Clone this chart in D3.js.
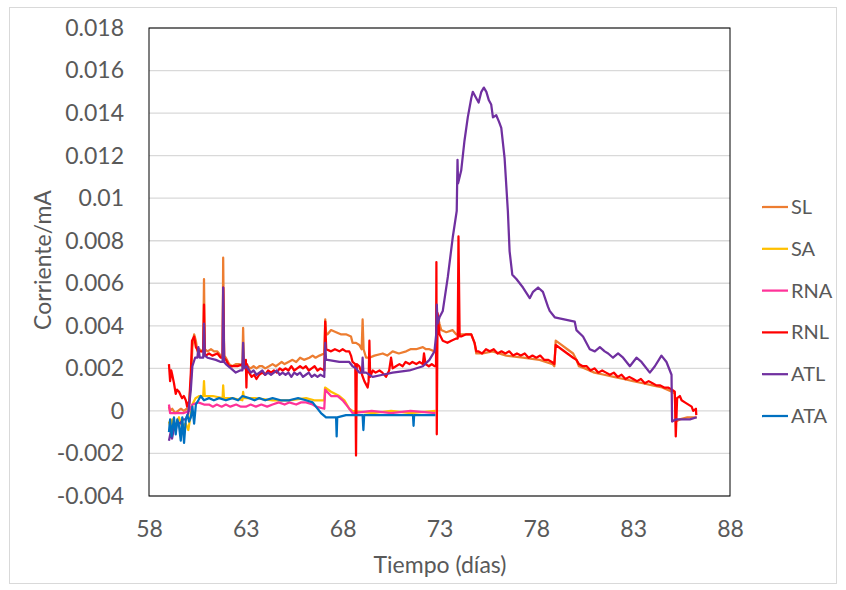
<!DOCTYPE html>
<html>
<head>
<meta charset="utf-8">
<script src="https://cdn.jsdelivr.net/npm/d3@7"></script>
<style>
  body { margin: 0; background: #fff; }
  text { font-family: Lato, "Open Sans", sans-serif; fill: #595959; }
</style>
</head>
<body>
<div id="chart"></div>
<script>
// Series values, [day, current mA]
const seriesNames = ["SL", "SA", "RNA", "RNL", "ATL", "ATA"];
const seriesColors = ["#ED7D31", "#FFC000", "#FF3399", "#FF0000", "#7030A0", "#0070C0"];

const SL = [
  [59.03, 0.0002], [59.09, 0.0], [59.2, 0.0001], [59.35, -0.0001], [59.5, 0.0], [59.65, 0.0001], [59.8, 0.0],
  [59.95, 0.0001], [60.05, 0.0], [60.16, 0.0014], [60.24, 0.003], [60.33, 0.0036], [60.42, 0.0033], [60.5, 0.0028],
  [60.6, 0.0029], [60.73, 0.0028], [60.8, 0.0029], [60.84, 0.0062], [60.88, 0.0029], [61.02, 0.0028], [61.2, 0.0029],
  [61.36, 0.0028], [61.53, 0.0028], [61.71, 0.0026], [61.8, 0.0026], [61.83, 0.0072], [61.88, 0.0026], [61.97, 0.0025],
  [62.14, 0.0022], [62.3, 0.0021], [62.48, 0.0022], [62.66, 0.0022], [62.82, 0.0021], [62.86, 0.0039], [62.91, 0.0021],
  [63.08, 0.0021], [63.25, 0.002], [63.4, 0.0021], [63.55, 0.002], [63.7, 0.0021], [63.85, 0.0021], [64.0, 0.002],
  [64.2, 0.0021], [64.38, 0.0022], [64.55, 0.0021], [64.7, 0.0022], [64.85, 0.0023], [65.0, 0.0022], [65.2, 0.0023],
  [65.41, 0.0024], [65.6, 0.0023], [65.8, 0.0025], [66.0, 0.0024], [66.28, 0.0025], [66.45, 0.0026], [66.6, 0.0025],
  [66.8, 0.0026], [67.05, 0.0027], [67.1, 0.0043],
  [67.15, 0.0036], [67.22, 0.0036], [67.4, 0.0038], [67.66, 0.0037], [67.9, 0.0036], [68.17, 0.0036], [68.43, 0.0035],
  [68.51, 0.0032], [68.69, 0.0032], [68.86, 0.0031], [68.98, 0.0029], [69.03, 0.0043], [69.08, 0.0029], [69.21, 0.0025],
  [69.38, 0.0025], [69.64, 0.0026], [70.07, 0.0027], [70.3, 0.0026], [70.58, 0.0028], [70.9, 0.0027], [71.28, 0.0028],
  [71.5, 0.0029], [71.79, 0.0029], [72.14, 0.003], [72.3, 0.0029],
  [72.48, 0.0029], [72.74, 0.0028], [72.83, 0.0029], [72.9, 0.0045], [73.0, 0.0041], [73.09, 0.0038], [73.35, 0.0037],
  [73.67, 0.0038], [73.86, 0.0036], [74.12, 0.0036], [74.38, 0.0036], [74.64, 0.0036], [74.81, 0.0032], [74.9, 0.0027],
  [75.22, 0.0027], [75.74, 0.0028], [76.45, 0.0026], [77.31, 0.0025], [78.17, 0.0024], [78.84, 0.0022], [78.93, 0.0021],
  [79.0, 0.0033], [79.3, 0.0031], [79.6, 0.0029], [79.9, 0.0027], [80.07, 0.0024], [80.2, 0.0021], [80.5, 0.002],
  [81.0, 0.0018], [81.5, 0.0017], [82.0, 0.0016], [82.5, 0.0015], [83.0, 0.0014], [83.5, 0.0013], [84.0, 0.0012],
  [84.5, 0.0011], [85.0, 0.0009], [85.15, 0.0008], [85.2, -0.0005], [85.4, -0.0004], [85.8, -0.0003], [86.28, -0.0003]
];

const SA = [
  [59.03, -0.0005], [59.12, -0.0008], [59.2, -0.0004], [59.3, -0.0009], [59.45, -0.0005], [59.55, -0.0003],
  [59.7, -0.0007], [59.9, -0.0006], [60.03, -0.0009], [60.15, -0.0002], [60.24, 0.0003], [60.4, 0.0006], [60.6, 0.0007],
  [60.8, 0.0007], [60.84, 0.0014], [60.88, 0.0007], [61.3, 0.0007], [61.8, 0.0006], [61.83, 0.0012], [61.87, 0.0006],
  [62.3, 0.0006], [62.82, 0.0005], [62.86, 0.0009], [62.9, 0.0006], [63.5, 0.0006], [64.38, 0.0005], [65.24, 0.0005],
  [66.11, 0.0006], [66.53, 0.0005], [67.05, 0.0005], [67.09, 0.0011], [67.4, 0.0009], [67.83, 0.0007], [68.09, 0.0005],
  [68.34, 0.0001], [68.51, 0.0], [69.55, -0.0001], [70.5, 0.0], [71.5, -0.0001], [72.79, 0.0]
];

const RNA = [
  [59.03, 0.0003], [59.09, -0.0001], [59.3, -0.0001], [59.55, -0.0001], [59.8, -0.0001], [60.07, 0.0], [60.24, 0.0003],
  [60.55, 0.0004], [60.84, 0.0003], [61.1, 0.0003], [61.3, 0.0002], [61.5, 0.0003], [61.75, 0.0002], [61.97, 0.0003],
  [62.2, 0.0002], [62.5, 0.0003], [62.75, 0.0002], [63.0, 0.0002], [63.25, 0.0003], [63.52, 0.0002], [63.8, 0.0003],
  [64.1, 0.0002], [64.38, 0.0003], [64.7, 0.0004], [65.0, 0.0003], [65.24, 0.0004], [65.6, 0.0003], [65.85, 0.0004],
  [66.11, 0.0004], [66.45, 0.0003], [66.62, 0.0002], [67.05, 0.0001],
  [67.1, 0.001], [67.4, 0.0007], [67.74, 0.0007], [68.0, 0.0005], [68.26, 0.0002], [68.51, -0.0001], [69.5, 0.0],
  [70.5, -0.0001], [71.5, 0.0], [72.79, -0.0001]
];

const RNL = [
  [59.03, 0.0022], [59.09, 0.0014], [59.15, 0.0019], [59.2, 0.0017], [59.29, 0.0013], [59.38, 0.0008], [59.45, 0.001],
  [59.55, 0.0009], [59.65, 0.0007], [59.71, 0.0006], [59.8, 0.0007], [59.9, 0.0005], [59.97, 0.0002], [60.03, 0.0004],
  [60.07, 0.0003], [60.16, 0.0018], [60.22, 0.0033], [60.33, 0.0035], [60.42, 0.003], [60.55, 0.0028], [60.73, 0.0028],
  [60.8, 0.0028], [60.84, 0.005], [60.88, 0.0027], [60.93, 0.0026], [61.1, 0.0027], [61.27, 0.0026], [61.53, 0.0027],
  [61.71, 0.0025], [61.8, 0.0025], [61.83, 0.0058], [61.88, 0.0025], [61.97, 0.0024], [62.14, 0.0021], [62.31, 0.0021],
  [62.57, 0.0021], [62.83, 0.0022], [62.9, 0.0022], [63.0, 0.0024], [63.03, 0.0011], [63.06, 0.0022], [63.17, 0.0018],
  [63.3, 0.0016], [63.43, 0.0017], [63.55, 0.0015], [63.69, 0.0017], [63.85, 0.0018], [64.0, 0.0017], [64.15, 0.0019],
  [64.3, 0.0018], [64.45, 0.0019], [64.6, 0.0018], [64.75, 0.002], [64.9, 0.0019], [65.05, 0.002], [65.2, 0.0019],
  [65.35, 0.0021], [65.5, 0.0019], [65.65, 0.002], [65.8, 0.0021], [65.95, 0.002], [66.1, 0.0021], [66.25, 0.0019],
  [66.4, 0.002], [66.55, 0.0021], [66.7, 0.0019], [66.85, 0.002], [67.05, 0.0019],
  [67.1, 0.0042], [67.15, 0.0029], [67.4, 0.0028], [67.6, 0.0029], [67.83, 0.0028], [68.0, 0.0029],
  [68.17, 0.0028], [68.34, 0.0028], [68.43, 0.0026], [68.51, 0.0023], [68.65, 0.0022], [68.69, -0.0021], [68.73, 0.0022],
  [68.86, 0.0021], [69.0, 0.0017], [69.12, 0.0014], [69.29, 0.0011], [69.34, 0.0014], [69.38, 0.0033], [69.42, 0.0016],
  [69.55, 0.0019], [69.7, 0.0018], [69.9, 0.0019], [70.05, 0.0018], [70.24, 0.0016], [70.4, 0.0019], [70.5, 0.0025],
  [70.58, 0.002], [70.75, 0.0021], [70.93, 0.0022], [71.1, 0.0021], [71.25, 0.0023], [71.45, 0.0022], [71.6, 0.0023],
  [71.8, 0.0022], [71.97, 0.0023], [72.14, 0.0022], [72.2, 0.0027], [72.28, 0.0022], [72.45, 0.0021], [72.6, 0.0022],
  [72.74, 0.0021], [72.82, 0.0021],
  [72.84, 0.007], [72.86, -0.0011], [72.9, 0.0046], [73.0, 0.0036], [73.17, 0.0033], [73.41, 0.0032], [73.61, 0.0033],
  [73.86, 0.0034], [73.94, 0.0034], [73.98, 0.0082], [74.04, 0.0035], [74.12, 0.0035], [74.38, 0.0036], [74.64, 0.0036],
  [74.81, 0.0032], [74.9, 0.0028], [75.0, 0.0028], [75.2, 0.0027], [75.4, 0.0029], [75.6, 0.0028], [75.8, 0.0029],
  [76.0, 0.0027], [76.2, 0.0028], [76.4, 0.0027], [76.6, 0.0028], [76.8, 0.0026], [77.0, 0.0027], [77.2, 0.0026],
  [77.4, 0.0027], [77.6, 0.0025], [77.8, 0.0026], [78.0, 0.0025], [78.2, 0.0026], [78.4, 0.0024], [78.6, 0.0024],
  [78.8, 0.0023], [78.93, 0.0022], [79.0, 0.0031], [79.3, 0.0029], [79.6, 0.0027], [79.9, 0.0025], [80.07, 0.0024],
  [80.2, 0.0022], [80.4, 0.0021], [80.6, 0.0021], [80.8, 0.0019], [81.0, 0.002], [81.2, 0.0018], [81.4, 0.0019],
  [81.6, 0.0018], [81.8, 0.0017], [82.0, 0.0018], [82.2, 0.0016], [82.4, 0.0017], [82.6, 0.0015], [82.8, 0.0016],
  [83.0, 0.0015], [83.2, 0.0014], [83.4, 0.0015], [83.6, 0.0013], [83.8, 0.0014], [84.0, 0.0013], [84.2, 0.0012],
  [84.4, 0.0012], [84.6, 0.0011], [84.8, 0.0011], [85.0, 0.001], [85.15, 0.0009], [85.2, -0.0012], [85.27, 0.0006],
  [85.41, 0.0007], [85.5, 0.0005], [85.67, 0.0004], [86.02, 0.0002], [86.1, 0.0], [86.24, 0.0001], [86.26, -0.0002]
];

const ATL = [
  [59.03, -0.0014], [59.12, -0.001], [59.19, -0.0013], [59.29, -0.0008], [59.38, -0.0009], [59.46, -0.0005],
  [59.6, -0.0006], [59.75, -0.0004], [59.9, -0.0004], [60.03, -0.0001], [60.16, 0.001], [60.24, 0.0021], [60.38, 0.0025],
  [60.5, 0.0025], [60.55, 0.003], [60.62, 0.0025], [60.75, 0.0025], [60.8, 0.0025], [60.84, 0.0041], [60.88, 0.0026],
  [61.02, 0.0025], [61.45, 0.0024], [61.71, 0.0023], [61.8, 0.0023], [61.83, 0.0058], [61.88, 0.0023], [61.97, 0.0022],
  [62.23, 0.002], [62.48, 0.0018], [62.7, 0.0019], [62.82, 0.0019], [62.86, 0.0032], [62.91, 0.002], [63.03, 0.0021],
  [63.26, 0.0018], [63.4, 0.0019], [63.55, 0.0017], [63.7, 0.0018], [63.85, 0.0019], [64.0, 0.0017], [64.15, 0.0018],
  [64.3, 0.0017], [64.45, 0.0018], [64.6, 0.0019], [64.75, 0.0017], [64.9, 0.0018], [65.05, 0.0017], [65.2, 0.0018],
  [65.35, 0.0016], [65.5, 0.0018], [65.65, 0.0017], [65.8, 0.0018], [65.95, 0.0016], [66.1, 0.0017], [66.25, 0.0018],
  [66.4, 0.0016], [66.55, 0.0017], [66.7, 0.0016], [66.85, 0.0017], [67.05, 0.0016],
  [67.1, 0.0032], [67.14, 0.0024], [67.22, 0.0024], [67.83, 0.0023], [68.34, 0.0023], [68.51, 0.0021], [68.69, 0.002],
  [68.86, 0.0018], [69.0, 0.0018], [69.03, 0.0025], [69.07, 0.0018], [69.21, 0.0018], [69.55, 0.0016], [70.07, 0.0017],
  [70.58, 0.0018], [71.45, 0.0019], [72.14, 0.0021], [72.48, 0.0024], [72.74, 0.0028], [72.83, 0.0036], [72.86, 0.005],
  [72.9, 0.0041], [73.0, 0.0044], [73.17, 0.0047], [73.43, 0.0063], [73.69, 0.0082], [73.89, 0.0094], [73.93, 0.0118],
  [73.96, 0.0107], [74.12, 0.0113], [74.29, 0.0127], [74.46, 0.0138], [74.64, 0.0147], [74.72, 0.015], [74.9, 0.0147],
  [75.02, 0.0145], [75.16, 0.015], [75.29, 0.0152], [75.42, 0.015], [75.55, 0.0146], [75.67, 0.0144], [75.76, 0.0138],
  [75.93, 0.0139], [76.07, 0.0136], [76.19, 0.0133], [76.36, 0.0119], [76.53, 0.0094], [76.62, 0.0075], [76.76, 0.0064],
  [76.97, 0.0062], [77.31, 0.0058], [77.66, 0.0053], [77.83, 0.0056], [78.09, 0.0058], [78.34, 0.0056], [78.6, 0.0049],
  [78.69, 0.0047], [78.95, 0.0044], [79.98, 0.0042], [80.07, 0.0038], [80.41, 0.0035], [80.76, 0.0029], [81.02, 0.0028],
  [81.28, 0.003], [81.53, 0.0028], [81.71, 0.0027], [81.96, 0.0025], [82.22, 0.0027], [82.48, 0.0025], [82.83, 0.0021],
  [83.17, 0.0025], [83.43, 0.0023], [83.86, 0.0018], [84.12, 0.0021], [84.46, 0.0026], [84.72, 0.0023], [84.98, 0.0017],
  [85.01, -0.0005], [85.2, -0.0004], [85.5, -0.0004], [85.93, -0.0004], [86.28, -0.0003]
];

const ATA = [
  [59.03, -0.001], [59.09, -0.0004], [59.17, -0.0012], [59.29, -0.0003], [59.38, -0.0011], [59.46, -0.0004],
  [59.55, -0.0007], [59.64, -0.0014], [59.72, -0.0003], [59.81, -0.0015], [59.9, -0.0004], [59.98, -0.0002],
  [60.07, -0.0005], [60.16, -0.0003], [60.24, 0.0002], [60.33, -0.0006], [60.42, 0.0003], [60.55, 0.0005],
  [60.67, 0.0007], [60.84, 0.0005], [61.1, 0.0006], [61.35, 0.0005], [61.62, 0.0006], [61.97, 0.0005], [62.31, 0.0006],
  [62.6, 0.0005], [62.83, 0.0007], [63.17, 0.0006], [63.45, 0.0005], [63.69, 0.0006], [64.0, 0.0005], [64.38, 0.0006],
  [64.8, 0.0005], [65.24, 0.0005], [65.7, 0.0006], [66.11, 0.0005], [66.45, 0.0004], [66.62, 0.0002],
  [66.88, -0.0001], [67.14, -0.0003], [67.48, -0.0003], [67.66, -0.0003], [67.69, -0.0012], [67.72, -0.0003],
  [68.17, -0.0002], [68.69, -0.0002], [69.03, -0.0002], [69.07, -0.0009], [69.11, -0.0002], [69.55, -0.0002],
  [70.41, -0.0002], [71.28, -0.0002], [71.63, -0.0002], [71.66, -0.0007], [71.69, -0.0002], [72.14, -0.0002],
  [72.79, -0.0002]
];

const seriesData = [SL, SA, RNA, RNL, ATL, ATA];

const xTicks = [58, 63, 68, 73, 78, 83, 88];
const yTicks = [-0.004, -0.002, 0, 0.002, 0.004, 0.006, 0.008, 0.01, 0.012, 0.014, 0.016, 0.018];
const yTickLabels = ["-0.004", "-0.002", "0", "0.002", "0.004", "0.006", "0.008", "0.01", "0.012", "0.014", "0.016", "0.018"];

// Layout
const W = 846, H = 590;
const margin = {top: 28, right: 116, bottom: 94, left: 149};
const width = W - margin.left - margin.right;
const height = H - margin.top - margin.bottom;

const svg = d3.select("#chart").append("svg")
    .attr("width", W)
    .attr("height", H);

// Outer chart border
svg.append("rect")
    .attr("x", 9.5).attr("y", 7.5)
    .attr("width", 827).attr("height", 576)
    .attr("fill", "none")
    .attr("stroke", "#d9d9d9");

const g = svg.append("g")
    .attr("transform", `translate(${margin.left}, ${margin.top})`);

const x = d3.scaleLinear().domain([58, 88]).range([0, width]);
const y = d3.scaleLinear().domain([-0.004, 0.018]).range([height, 0]);

// Horizontal gridlines
g.append("g")
    .selectAll("line")
    .data(yTicks)
    .enter()
    .append("line")
    .attr("x1", 0).attr("x2", width)
    .attr("y1", d => y(d)).attr("y2", d => y(d))
    .attr("stroke", "#d9d9d9")
    .attr("stroke-width", 1.3);

// Y axis labels
const yAxis = g.append("g")
    .call(d3.axisLeft(y).tickValues(yTicks).tickSize(0).tickPadding(25)
        .tickFormat((d, i) => yTickLabels[i]));
yAxis.select(".domain").remove();
yAxis.selectAll("text")
    .style("font-size", "23px")
    .attr("fill", "#595959");

// X axis labels
const xAxis = g.append("g")
    .attr("transform", `translate(0, ${height})`)
    .call(d3.axisBottom(x).tickValues(xTicks).tickSize(0).tickPadding(25));
xAxis.select(".domain").remove();
xAxis.selectAll("text")
    .style("font-size", "23px")
    .attr("fill", "#595959");

// Lines
const line = d3.line()
    .x(d => x(d[0]))
    .y(d => y(d[1]));

g.append("defs").append("clipPath").attr("id", "clip")
    .append("rect").attr("width", width).attr("height", height);

g.append("g")
    .attr("clip-path", "url(#clip)")
    .selectAll("path")
    .data(seriesData)
    .enter()
    .append("path")
    .attr("d", line)
    .attr("fill", "none")
    .attr("stroke", (d, i) => seriesColors[i])
    .attr("stroke-width", 2.25)
    .attr("stroke-linejoin", "round");

// Plot frame
g.append("rect")
    .attr("width", width).attr("height", height)
    .attr("fill", "none")
    .attr("stroke", "#000")
    .attr("stroke-width", 1);

// Axis titles
svg.append("text")
    .attr("x", 440).attr("y", 573)
    .attr("text-anchor", "middle")
    .style("font-size", "23px")
    .text("Tiempo (días)");

svg.append("text")
    .attr("transform", "translate(51, 260) rotate(-90)")
    .attr("text-anchor", "middle")
    .style("font-size", "23px")
    .text("Corriente/mA");

// Legend
const legend = svg.append("g")
    .selectAll("g")
    .data(seriesNames)
    .enter()
    .append("g")
    .attr("transform", (d, i) => `translate(762, ${207 + i * 41.8})`);

legend.append("line")
    .attr("x1", 0).attr("x2", 26)
    .attr("stroke", (d, i) => seriesColors[i])
    .attr("stroke-width", 2.25);

legend.append("text")
    .attr("x", 29)
    .attr("dy", "0.35em")
    .style("font-size", "20px")
    .text(d => d);
</script>
</body>
</html>
